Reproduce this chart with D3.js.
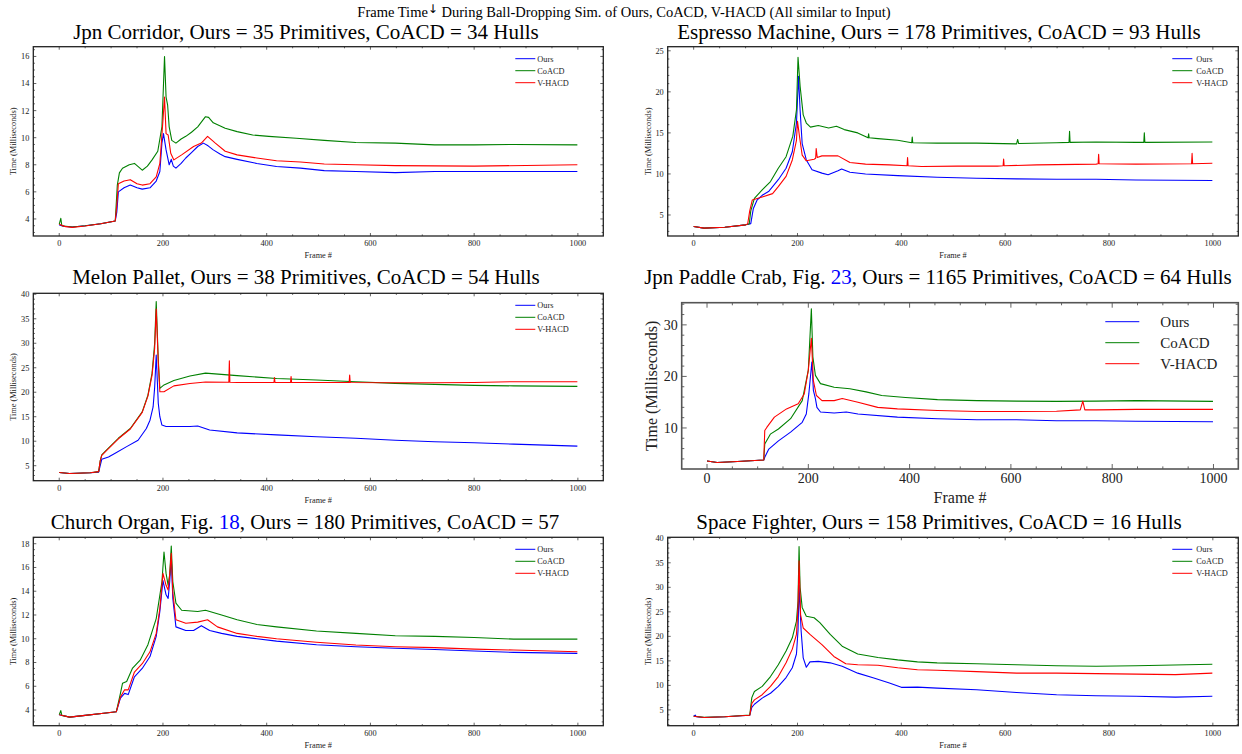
<!DOCTYPE html>
<html><head><meta charset="utf-8">
<script src="https://cdn.jsdelivr.net/npm/d3@7"></script>
<style>body{margin:0;background:#fff}svg{display:block}text{font-family:"Liberation Serif","Times New Roman",serif}</style>
</head><body>
<svg id="c" width="1242" height="754"></svg>
<script>
// ---------------- DATA ([frame, milliseconds]) ----------------
const seriesNames = ["Ours", "CoACD", "V-HACD"];
const xTicks = [0, 200, 400, 600, 800, 1000];

const corridorOurs = [[0,3.55],[10,3.45],[25,3.4],[50,3.5],[80,3.65],[108,3.85],[111,4.5],[114,6.0],[125,6.3],[137,6.5],[150,6.3],[160,6.2],[175,6.3],[187,6.8],[194,7.5],[198,9.6],[201,10.3],[206,9.1],[212,8.0],[216,8.4],[220,7.9],[225,7.75],[235,8.1],[244,8.5],[255,8.9],[267,9.35],[278,9.6],[287,9.4],[297,9.1],[310,8.8],[320,8.6],[343,8.4],[381,8.1],[419,7.87],[465,7.75],[511,7.57],[572,7.5],[648,7.42],[724,7.5],[800,7.5],[900,7.5],[999,7.5]];
const corridorCoACD = [[0,3.6],[3,4.05],[5,3.5],[25,3.4],[50,3.5],[80,3.65],[108,3.85],[112,6.5],[116,7.4],[122,7.74],[135,8.0],[145,8.1],[160,7.6],[170,7.9],[179,8.36],[190,9.0],[198,10.8],[203,16.0],[206,13.0],[209,12.4],[212,10.8],[217,9.8],[225,9.6],[235,9.9],[244,10.1],[255,10.4],[267,10.8],[282,11.55],[288,11.5],[297,11.1],[320,10.7],[343,10.45],[373,10.2],[404,10.1],[457,9.96],[511,9.8],[572,9.64],[648,9.6],[724,9.47],[800,9.47],[876,9.5],[999,9.47]];
const corridorVHACD = [[0,3.6],[10,3.45],[25,3.38],[50,3.48],[80,3.65],[108,3.85],[111,5.0],[114,6.6],[125,6.8],[137,6.9],[150,6.6],[160,6.5],[175,6.6],[187,7.1],[194,8.1],[200,11.3],[203,13.0],[206,10.3],[210,10.2],[215,8.85],[221,8.36],[236,8.73],[259,9.35],[274,9.6],[286,10.1],[301,9.6],[320,9.0],[343,8.73],[381,8.5],[419,8.3],[465,8.2],[511,8.06],[572,8.0],[648,7.94],[800,7.9],[900,7.95],[999,8.0]];

const espressoOurs = [[0,3.6],[20,3.4],[60,3.5],[100,3.8],[110,3.95],[115,5.8],[122,6.8],[132,7.4],[145,7.9],[163,9.3],[178,10.7],[190,12.7],[198,16.2],[202,21.9],[205,17.8],[209,13.7],[217,11.7],[228,10.5],[247,10.1],[259,9.9],[278,10.4],[285,10.6],[301,10.2],[331,10.0],[393,9.8],[469,9.6],[545,9.47],[622,9.4],[699,9.35],[775,9.35],[852,9.27],[999,9.2]];
const espressoCoACD = [[0,3.6],[20,3.4],[60,3.5],[100,3.8],[107,3.9],[110,5.5],[117,7.03],[132,8.05],[148,9.07],[163,10.7],[178,12.1],[191,14.6],[198,17.8],[201,24.2],[205,20.7],[211,17.2],[217,16.2],[225,15.7],[240,15.9],[260,15.6],[275,15.8],[290,15.4],[316,15.0],[336,14.4],[337,14.9],[338,14.4],[355,14.3],[393,14.1],[420,13.8],[421,14.5],[422,13.8],[469,13.75],[545,13.75],[622,13.66],[624,14.2],[626,13.7],[699,13.8],[723,13.85],[724,15.2],[725,13.85],[775,13.9],[852,13.85],[867,13.85],[868,15.0],[869,13.85],[999,13.9]];
const espressoVHACD = [[0,3.6],[20,3.4],[60,3.5],[100,3.8],[104,3.9],[108,5.5],[113,6.83],[132,7.2],[152,7.6],[163,8.45],[178,9.7],[190,11.7],[198,14.1],[200,16.4],[204,14.5],[209,12.3],[217,11.6],[232,11.8],[235,11.9],[236,13.1],[238,12.0],[247,12.2],[278,12.2],[301,11.4],[331,11.2],[377,11.1],[411,11.0],[412,12.0],[413,11.0],[439,10.9],[508,10.95],[585,10.95],[596,11.0],[597,11.8],[598,11.0],[661,11.1],[775,11.2],[779,11.25],[780,12.4],[781,11.25],[852,11.2],[959,11.25],[960,12.5],[961,11.25],[999,11.3]];

const melonOurs = [[0,3.6],[20,3.4],[60,3.55],[76,3.7],[79,5.0],[82,6.3],[95,6.8],[107,7.5],[130,8.9],[152,10.2],[168,12.6],[175,14.3],[181,17.0],[184,21],[187,27.6],[191,17.7],[194,15.0],[198,13.3],[206,13.0],[252,13.0],[267,13.1],[290,12.3],[343,11.7],[419,11.3],[496,10.9],[572,10.6],[648,10.2],[724,9.9],[800,9.7],[876,9.4],[999,9.0]];
const melonCoACD = [[0,3.6],[20,3.4],[60,3.55],[76,3.8],[79,6.0],[82,7.2],[91,8.2],[114,10.6],[137,12.6],[160,16.0],[171,19.4],[179,23.9],[184,30],[187,38.5],[191,26.6],[194,20.8],[202,21.5],[221,22.4],[252,23.3],[282,23.9],[343,23.4],[419,22.8],[496,22.5],[572,22.15],[648,21.8],[724,21.6],[800,21.4],[876,21.3],[999,21.2]];
const melonVHACD = [[0,3.6],[20,3.4],[60,3.55],[76,3.8],[79,6.0],[82,7.1],[91,8.1],[114,10.5],[137,12.5],[160,15.9],[171,19.2],[179,23.5],[184,29],[187,37],[191,26],[194,20.1],[202,20.1],[221,21.3],[252,21.8],[282,22.1],[327,22.05],[328,26.4],[329,22.05],[343,22.0],[414,22.0],[415,23],[416,22.0],[446,22.0],[447,23.2],[448,22.0],[559,22.0],[560,23.5],[561,22.0],[648,21.95],[724,21.95],[800,22.0],[876,22.15],[999,22.15]];

const crabOurs = [[0,3.6],[20,3.3],[60,3.5],[112,3.8],[114,4.3],[122,5.9],[141,7.5],[165,9.2],[188,11.1],[196,12.7],[201,16.6],[207,22.8],[210,17.3],[212,16.5],[214,15.7],[217,14.0],[224,13.1],[251,12.9],[275,13.1],[298,12.7],[376,12.1],[455,11.8],[533,11.6],[611,11.6],[690,11.4],[769,11.4],[847,11.3],[999,11.2]];
const crabCoACD = [[0,3.6],[20,3.3],[60,3.5],[112,3.8],[114,6.9],[125,8.8],[141,9.8],[165,11.8],[188,15.3],[200,21.2],[206,33.1],[209,23.8],[214,20.2],[224,18.6],[251,17.9],[282,17.6],[314,17.0],[345,16.3],[392,15.9],[455,15.5],[533,15.3],[611,15.2],[690,15.15],[769,15.2],[847,15.3],[999,15.15]];
const crabVHACD = [[0,3.6],[20,3.3],[60,3.5],[112,3.8],[114,9.5],[118,10.1],[133,12.1],[157,13.7],[180,14.7],[192,16.6],[200,21.2],[206,27.4],[210,19.2],[216,16.3],[227,15.3],[251,15.3],[267,15.7],[298,15.0],[337,14.0],[376,13.7],[455,13.4],[533,13.2],[611,13.2],[690,13.25],[737,13.5],[742,15.2],[746,13.5],[769,13.5],[847,13.6],[999,13.6]];

const organOurs = [[0,3.6],[20,3.4],[50,3.55],[90,3.75],[110,3.85],[118,5.0],[126,5.4],[133,5.3],[145,6.8],[160,7.5],[175,8.5],[187,10.2],[194,12.3],[200,14.9],[206,13.7],[210,13.4],[213,14.8],[216,16.8],[219,13.4],[225,11.0],[244,10.7],[259,10.7],[274,11.1],[290,10.7],[313,10.45],[343,10.2],[381,10.0],[419,9.8],[496,9.5],[572,9.33],[648,9.2],[724,9.1],[800,8.97],[876,8.85],[999,8.77]];
const organCoACD = [[0,3.6],[3,3.95],[5,3.55],[20,3.4],[50,3.55],[90,3.75],[110,3.85],[118,5.4],[122,6.25],[130,6.4],[141,7.5],[156,8.2],[171,9.5],[187,11.7],[198,14.8],[202,17.3],[206,15.5],[210,14.5],[213,15.4],[216,17.8],[219,14.8],[225,13.0],[236,12.4],[267,12.3],[282,12.4],[313,12.0],[343,11.6],[381,11.2],[419,11.0],[496,10.65],[572,10.45],[648,10.25],[724,10.2],[800,10.1],[876,9.97],[999,9.97]];
const organVHACD = [[0,3.6],[20,3.4],[50,3.55],[90,3.75],[110,3.85],[118,5.1],[126,5.7],[133,5.7],[145,7.2],[160,7.9],[175,8.9],[187,10.45],[194,12.55],[200,15.5],[206,14.5],[210,14.1],[213,15.4],[216,17.2],[219,13.9],[225,11.6],[244,11.3],[267,11.4],[286,11.6],[305,11.0],[343,10.45],[381,10.2],[419,10.0],[496,9.7],[572,9.47],[648,9.33],[724,9.25],[800,9.13],[876,9.05],[999,8.9]];

const fighterOurs = [[0,3.7],[3,3.95],[5,3.6],[20,3.45],[60,3.6],[108,3.9],[112,5.5],[117,6.15],[132,7.4],[148,8.4],[163,9.8],[178,11.6],[190,13.6],[198,16.4],[201,21.2],[203,30.4],[207,21.1],[211,15.6],[217,13.7],[224,14.8],[240,14.9],[263,14.6],[286,13.9],[316,12.5],[347,11.5],[377,10.5],[400,9.6],[431,9.65],[469,9.45],[545,9.1],[622,8.55],[699,8.1],[775,7.9],[852,7.8],[928,7.6],[999,7.8]];
const fighterCoACD = [[0,3.7],[20,3.5],[60,3.6],[108,3.95],[112,7.5],[117,8.76],[132,9.8],[148,11.8],[163,14.2],[178,17.0],[190,19.7],[198,23.1],[201,27.2],[203,38.3],[205,30],[209,25.9],[217,24.1],[232,23.8],[243,22.8],[263,20.4],[286,18.0],[316,16.4],[355,15.7],[393,15.2],[431,14.8],[469,14.6],[545,14.4],[622,14.2],[699,14.0],[775,13.9],[852,14.0],[999,14.3]];
const fighterVHACD = [[0,3.7],[20,3.45],[60,3.6],[108,3.9],[112,6.3],[117,7.05],[132,8.1],[148,9.8],[163,11.8],[178,14.6],[190,17.4],[198,20.4],[201,26],[203,35.4],[206,24.4],[211,21.7],[224,20.4],[247,18.3],[270,15.9],[293,14.4],[316,14.2],[355,14.1],[393,13.6],[431,13.2],[469,13.1],[545,12.8],[622,12.5],[699,12.5],[775,12.4],[852,12.3],[928,12.2],[999,12.5]];

const supTitle = ["Frame Time", "\u2193\uFE0E", " During Ball-Dropping Sim. of Ours, CoACD, V-HACD (All similar to Input)"];

// ---------------- LAYOUT ----------------
const colors = ["#0000ff", "#008000", "#ff0000"];
const small = {tick: 8.3, label: 8.3, legend: 8.3, maj: 3, min: 1.6, legRow: 12, legY: 12, legLen: 20, xtl: 7.5, xl: 19, yl: 20, tpad: 4};
const big = {tick: 14, label: 16, legend: 15, maj: 5, min: 2.6, legRow: 21, legY: 19, legLen: 34, xtl: 9.5, xl: 28, yl: 30, tpad: 4};

const panels = [
  {title:["Jpn Corridor, Ours = 35 Primitives, CoACD = 34 Hulls"], tx:306, ty:39, box:[33.3,46.7,603.3,236], yd:[2.74,16.72], yt:[4,6,8,10,12,14,16], ym:0.5, legT:66, legL:88, data:[corridorOurs,corridorCoACD,corridorVHACD], st:small},
  {title:["Espresso Machine, Ours = 178 Primitives, CoACD = 93 Hulls"], tx:939, ty:39, box:[667.7,46.7,1238.3,236], yd:[2.44,25.5], yt:[5,10,15,20,25], ym:1, legT:42, legL:66, data:[espressoOurs,espressoCoACD,espressoVHACD], st:small},
  {title:["Melon Pallet, Ours = 38 Primitives, CoACD = 54 Hulls"], tx:306, ty:284, box:[33.3,293.3,603.3,480.7], yd:[1.94,40.2], yt:[5,10,15,20,25,30,35,40], ym:1, legT:66, legL:88, data:[melonOurs,melonCoACD,melonVHACD], st:small},
  {title:["Jpn Paddle Crab, Fig. ","23",", Ours = 1165 Primitives, CoACD = 64 Hulls"], tx:938, ty:284, box:[681.7,302.7,1238.3,469], yd:[2.04,34.3], yt:[10,20,30], ym:2, legT:78, legL:133, data:[crabOurs,crabCoACD,crabVHACD], st:big},
  {title:["Church Organ, Fig. ","18",", Ours = 180 Primitives, CoACD = 57"], tx:305, ty:528.5, box:[33.3,537.3,603.3,725.7], yd:[2.68,18.54], yt:[4,6,8,10,12,14,16,18], ym:0.5, legT:66, legL:88, data:[organOurs,organCoACD,organVHACD], st:small},
  {title:["Space Fighter, Ours = 158 Primitives, CoACD = 16 Hulls"], tx:939, ty:528.5, box:[667.7,537.3,1238.3,725.7], yd:[1.78,40.2], yt:[5,10,15,20,25,30,35,40], ym:1, legT:42, legL:66, data:[fighterOurs,fighterCoACD,fighterVHACD], st:small}
];

const svg = d3.select("#c");
const titleSize = 21;

// super title
const sup = svg.append("text").attr("x", 624).attr("y", 17).attr("text-anchor","middle").attr("font-size", 14.5).attr("fill","#000");
sup.append("tspan").text(supTitle[0]);
sup.append("tspan").attr("font-size", 12).attr("font-family", "DejaVu Sans").attr("fill", "#000").attr("dy", -4).text(supTitle[1]);
sup.append("tspan").attr("dy", 4).text(supTitle[2]);

panels.forEach(p => {
  const [x0,y0,x1,y1] = p.box, s = p.st;
  const x = d3.scaleLinear().domain([-50, 1049]).range([x0, x1]);
  const y = d3.scaleLinear().domain(p.yd).range([y1, y0]);
  const g = svg.append("g");

  // title
  const t = g.append("text").attr("x", p.tx).attr("y", p.ty).attr("text-anchor","middle").attr("font-size", titleSize).attr("fill","#000");
  p.title.forEach((part,i) => t.append("tspan").attr("fill", i===1 ? "#0000ff" : "#000").text(part));

  // clip
  const cid = "clip" + Math.round(x0) + Math.round(y0);
  g.append("clipPath").attr("id", cid).append("rect").attr("x",x0).attr("y",y0).attr("width",x1-x0).attr("height",y1-y0);

  // lines
  const line = d3.line().x(d => x(d[0])).y(d => y(d[1]));
  const lg = g.append("g").attr("clip-path", `url(#${cid})`);
  p.data.forEach((ser,i) => lg.append("path").datum(ser).attr("d", line).attr("fill","none").attr("stroke", colors[i]).attr("stroke-width", 1.1).attr("stroke-linejoin","round"));

  // ticks (inward, all sides)
  const tg = g.append("g").attr("stroke","#222").attr("stroke-width",0.7);
  const xMinor = d3.range(0, 1049, 50).filter(v => v % 200 !== 0);
  const [yl0, yl1] = p.yd;
  const yMinor = d3.range(Math.ceil(yl0/p.ym)*p.ym, yl1, p.ym).filter(v => !p.yt.some(t => Math.abs(t-v) < 1e-6));
  const tick = (x1_,y1_,x2_,y2_) => tg.append("line").attr("x1",x1_).attr("y1",y1_).attr("x2",x2_).attr("y2",y2_);
  xTicks.forEach(v => { tick(x(v),y1,x(v),y1-s.maj); tick(x(v),y0,x(v),y0+s.maj); });
  xMinor.forEach(v => { tick(x(v),y1,x(v),y1-s.min); tick(x(v),y0,x(v),y0+s.min); });
  p.yt.forEach(v => { tick(x0,y(v),x0+s.maj,y(v)); tick(x1,y(v),x1-s.maj,y(v)); });
  yMinor.forEach(v => { tick(x0,y(v),x0+s.min,y(v)); tick(x1,y(v),x1-s.min,y(v)); });

  // frame
  g.append("rect").attr("x",x0).attr("y",y0).attr("width",x1-x0).attr("height",y1-y0).attr("fill","none").attr("stroke", s===big ? "#555" : "#222").attr("stroke-width", s===big ? 1.6 : 1.3);

  // tick labels
  xTicks.forEach(v => g.append("text").attr("x", x(v)).attr("y", y1 + s.xtl).attr("dy","0.35em").attr("text-anchor","middle").attr("font-size", s.tick).attr("fill","#222").text(v));
  p.yt.forEach(v => g.append("text").attr("x", x0 - s.tpad).attr("y", y(v)).attr("dy","0.35em").attr("text-anchor","end").attr("font-size", s.tick).attr("fill","#222").text(v));

  // axis labels
  g.append("text").attr("x", (x0+x1)/2).attr("y", y1 + s.xl).attr("dy","0.35em").attr("text-anchor","middle").attr("font-size", s.label).attr("fill","#222").text("Frame #");
  g.append("text").attr("transform", `translate(${x0 - s.yl},${(y0+y1)/2}) rotate(-90)`).attr("dy","0.35em").attr("text-anchor","middle").attr("font-size", s.label).attr("fill","#222").text("Time (Milliseconds)");

  // legend
  seriesNames.forEach((n,i) => {
    const ly = y0 + s.legY + i*s.legRow;
    g.append("line").attr("x1", x1 - p.legL).attr("x2", x1 - p.legL + s.legLen).attr("y1", ly).attr("y2", ly).attr("stroke", colors[i]).attr("stroke-width", 1);
    g.append("text").attr("x", x1 - p.legT).attr("y", ly).attr("dy","0.35em").attr("font-size", s.legend).attr("fill","#222").text(n);
  });
});
</script>
</body></html>
